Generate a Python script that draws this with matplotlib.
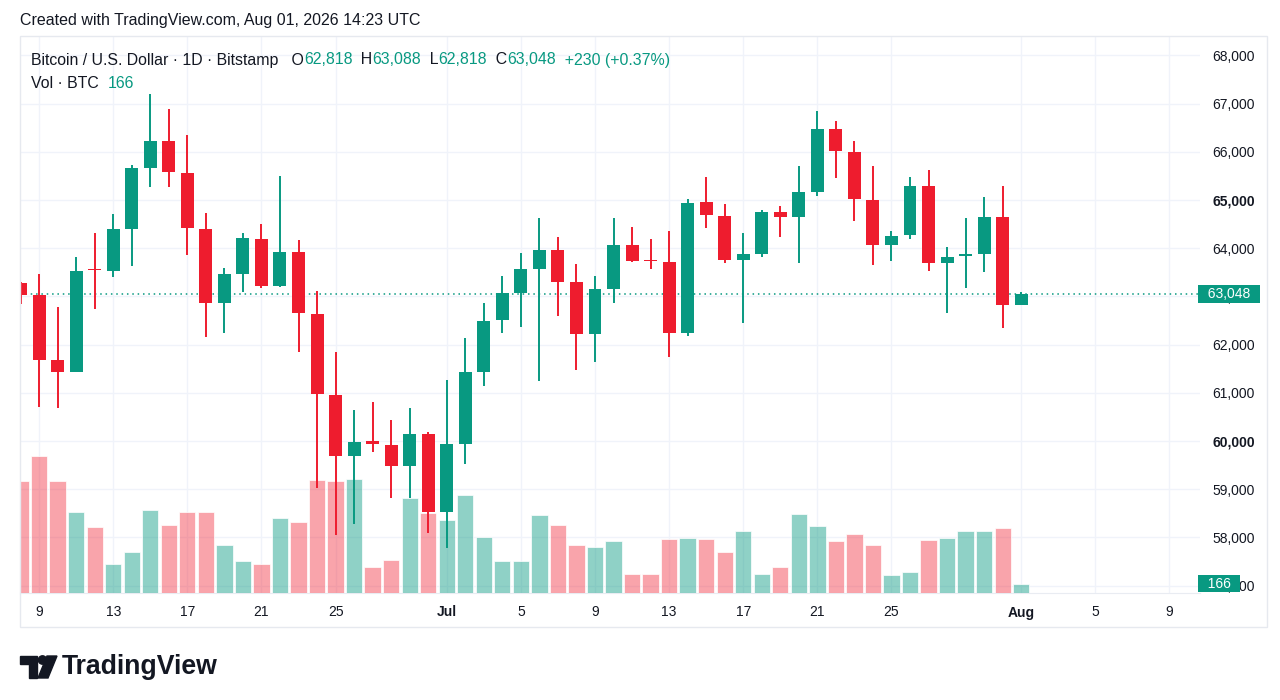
import numpy as np
import pandas as pd
import matplotlib
matplotlib.use("Agg")
import matplotlib.pyplot as plt
from matplotlib import transforms
from matplotlib.patches import Rectangle, Circle, Polygon

### DATA (BTC/USD daily, Bitstamp) ###

start_date = "2026-06-08"
end_date = "2026-08-01"

opens = [63280, 63030, 61670, 61440, 63560, 63530, 64400, 65660, 66230, 65560,
         64400, 62870, 63460, 64190, 63220, 63920, 62630, 60950, 59690, 60000,
         59920, 59470, 60140, 58520, 59940, 61440, 62500, 63060, 63560, 63960,
         63300, 62210, 63150, 64070, 63750, 63720, 62250, 64950, 64670, 63760,
         63870, 64760, 64640, 65170, 66470, 66000, 65000, 64070, 64270, 65290,
         63690, 63830, 63870, 64650, 62818]
highs = [63300, 63460, 62780, 63820, 64310, 64710, 65730, 67200, 66890, 66350,
         64730, 63590, 64310, 64500, 65500, 64170, 63110, 61850, 60640, 60810,
         60430, 60680, 60190, 61260, 62140, 62870, 63420, 63910, 64620, 64230,
         63670, 63420, 64620, 64430, 64190, 64360, 65020, 65470, 64910, 64310,
         64790, 64880, 65710, 66850, 66640, 66220, 65710, 64360, 65470, 65620,
         64030, 64620, 65060, 65300, 63088]
lows = [62840, 60700, 60680, 61430, 62740, 63400, 63630, 65270, 65270, 63860,
        62160, 62250, 63090, 63170, 63200, 61850, 59020, 58050, 58280, 59770,
        58820, 58820, 58090, 57780, 59520, 61140, 62250, 62370, 61250, 62600,
        61470, 61630, 62860, 63710, 63570, 61740, 62180, 64410, 63690, 62450,
        63820, 64230, 63690, 65080, 65450, 64570, 63650, 63730, 64200, 63530,
        62660, 63180, 63500, 62350, 62818]
closes = [63030, 61680, 61440, 63530, 63540, 64400, 65660, 66230, 65580, 64420,
          62870, 63460, 64210, 63220, 63920, 62650, 60970, 59690, 59980, 59940,
          59470, 60140, 58530, 59940, 61440, 62490, 63060, 63560, 63960, 63290,
          62210, 63150, 64070, 63740, 63730, 62250, 64930, 64690, 63760, 63870,
          64760, 64640, 65160, 66470, 66020, 65020, 64070, 64260, 65290, 63700,
          63820, 63870, 64650, 62820, 63048]
volumes = [2005, 2438, 1999, 1446, 1178, 523, 732, 1487, 1219, 1451,
           1451, 851, 577, 523, 1333, 1267, 2022, 1994, 2040, 464,
           589, 1689, 1428, 1296, 1755, 1005, 577, 564, 1392, 1214,
           850, 821, 934, 339, 332, 969, 987, 957, 737, 1112,
           339, 457, 1410, 1201, 921, 1059, 857, 321, 380, 951,
           975, 1100, 1100, 1160, 166]

tick_dates = ["2026-06-09", "2026-06-13", "2026-06-17", "2026-06-21", "2026-06-25",
              "2026-07-01", "2026-07-05", "2026-07-09", "2026-07-13", "2026-07-17",
              "2026-07-21", "2026-07-25", "2026-08-01", "2026-08-05", "2026-08-09"]
tick_labels = ["9", "13", "17", "21", "25", "Jul", "5", "9", "13", "17",
               "21", "25", "Aug", "5", "9"]
price_ticks = [57000, 58000, 59000, 60000, 61000, 62000, 63000, 64000,
               65000, 66000, 67000, 68000]
bold_labels = ["Jul", "Aug", "65,000", "60,000"]

UP = "#089981"
DOWN = "#EE1C2E"
UP_VOL = (8 / 255, 153 / 255, 129 / 255, 0.45)
DOWN_VOL = (242 / 255, 54 / 255, 69 / 255, 0.45)
TXT = "#131722"
GRID = "#f0f3fa"

plt.rcParams["font.family"] = ["Liberation Sans", "DejaVu Sans"]

dates = pd.date_range(start_date, end_date, freq="D")
x = np.arange(len(dates))
o = np.array(opens, dtype=float)
h = np.array(highs, dtype=float)
l = np.array(lows, dtype=float)
c = np.array(closes, dtype=float)
up = c >= o

W, H = 1280, 700
XLIM = (-0.03, 63.65)
YLIM = (56845, 68403)


def box(left, top, right, bottom):
    return [left / W, 1 - bottom / H, (right - left) / W, (bottom - top) / H]


fig = plt.figure(figsize=(12.8, 7), dpi=100)
fig.patch.set_facecolor("white")

pane = box(20, 36, 1200, 593)
# bottom: grid + scales, middle: volume, top: candles
gax = fig.add_axes(pane)
vax = fig.add_axes(pane, sharex=gax)
ax = fig.add_axes(pane, sharex=gax)
for a in (vax, ax):
    a.patch.set_alpha(0)
    a.axis("off")

start = pd.Timestamp(start_date)
tick_pos = [(pd.Timestamp(d) - start).days for d in tick_dates]
gax.set_xlim(*XLIM)
gax.set_ylim(*YLIM)
gax.set_xticks(tick_pos)
gax.set_xticklabels(tick_labels)
gax.set_yticks(price_ticks)
gax.set_yticklabels([f"{p:,}" for p in price_ticks])
gax.yaxis.tick_right()
gax.tick_params(axis="x", length=0, pad=9, labelsize=10, labelcolor=TXT)
gax.tick_params(axis="y", length=0, pad=9, labelsize=10, labelcolor=TXT)
for lab in gax.get_xticklabels() + gax.get_yticklabels():
    if lab.get_text() in bold_labels:
        lab.set_fontweight("bold")
gax.grid(True, color=GRID, linewidth=1)
for side in ["top", "left", "right"]:
    gax.spines[side].set_visible(False)
gax.spines["bottom"].set_color("#e9ecf2")

vax.bar(x, volumes, width=0.88, color=[UP_VOL if u else DOWN_VOL for u in up],
        edgecolor="white", linewidth=0.5)
vax.set_ylim(0, 9943)

colors = [UP if u else DOWN for u in up]
ax.vlines(x, l, h, colors=colors, linewidth=1.4, zorder=3)
body = np.maximum(np.abs(c - o), 30)
ax.bar(x, body, bottom=np.minimum(o, c), width=0.7, color=colors, zorder=4)
ax.axhline(c[-1], color=UP, linestyle=(0, (1, 2.5)), linewidth=1.1, zorder=2)
ax.set_ylim(*YLIM)

# last price and last volume labels
price_tr = transforms.blended_transform_factory(ax.transAxes, ax.transData)
ax.text(1.0, c[-1], f"  {c[-1]:,.0f}  ", transform=price_tr, ha="left", va="center",
        color="white", fontsize=10, clip_on=False, zorder=6,
        bbox=dict(boxstyle="square,pad=0.12", fc=UP, ec="none"))
vol_tr = transforms.blended_transform_factory(ax.transAxes, vax.transData)
ax.text(1.0, volumes[-1], f"  {volumes[-1]}  ", transform=vol_tr, ha="left", va="center",
        color="white", fontsize=10, clip_on=False, zorder=6,
        bbox=dict(boxstyle="square,pad=0.12", fc=UP, ec="none"))

# header and legend
fig.text(20 / W, 1 - 20 / H, "Created with TradingView.com, Aug 01, 2026 14:23 UTC",
         fontsize=11.5, color=TXT, va="center", ha="left")


def chained(parts, px, py, size=11.4):
    t = ax.annotate(parts[0][0], xy=(px / W, 1 - py / H), xycoords="figure fraction",
                    color=parts[0][1], fontsize=size, va="center", ha="left")
    for s, col in parts[1:]:
        t = ax.annotate(s, xy=(1, 0), xycoords=t, color=col, fontsize=size,
                        va="bottom", ha="left")


chained([("Bitcoin / U.S. Dollar · 1D · Bitstamp   O", TXT), (f"{opens[-1]:,}", UP),
         ("  H", TXT), (f"{highs[-1]:,}", UP), ("  L", TXT), (f"{lows[-1]:,}", UP),
         ("  C", TXT), (f"{closes[-1]:,}", UP), ("  +230 (+0.37%)", UP)], 31, 60)
chained([("Vol · BTC  ", TXT), (f"{volumes[-1]}", UP)], 31, 84)

# outer chart frame
fig.add_artist(Rectangle((20 / W, 1 - 627 / H), 1247 / W, 591 / H, transform=fig.transFigure,
                         fill=False, edgecolor="#e6e9ef", linewidth=1))

# TradingView logo
lax = fig.add_axes(box(0, 640, 300, 690))
lax.set_xlim(0, 300)
lax.set_ylim(690, 640)
lax.axis("off")
lax.add_patch(Polygon([(20, 656), (37, 656), (37, 678), (29, 678), (29, 664), (20, 664)],
                      closed=True, color=TXT))
lax.add_patch(Circle((42.5, 660), 4.2, color=TXT))
lax.add_patch(Polygon([(47, 656), (57, 656), (48, 678), (38, 678)], closed=True, color=TXT))
lax.text(62, 667, "TradingView", fontsize=19.2, fontweight="bold", color=TXT,
         va="center", ha="left")

fig.savefig("out.png", dpi=100, facecolor="white")
